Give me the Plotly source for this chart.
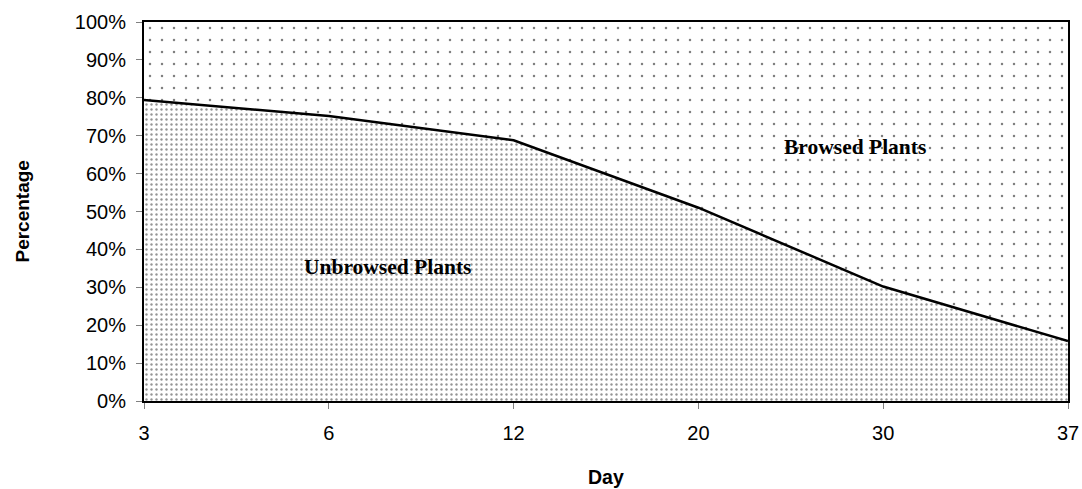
import plotly.graph_objects as go

days = ["3", "6", "12", "20", "30", "37"]
unbrowsed = [79.4, 75.2, 68.8, 51.0, 30.2, 15.8]
browsed = [20.6, 24.8, 31.2, 49.0, 69.8, 84.2]
y_ticks = list(range(0, 101, 10))
y_labels = [f"{v}%" for v in y_ticks]

fig = go.Figure()
fig.add_trace(go.Scatter(
    x=days, y=unbrowsed, stackgroup="one", mode="lines",
    line=dict(color="black", width=2.5),
    fillcolor="white",
    fillpattern=dict(shape=".", size=5, solidity=0.18, fgcolor="#2a2a2a",
                     bgcolor="white", fillmode="overlay"),
    name="Unbrowsed Plants", showlegend=False,
))
fig.add_trace(go.Scatter(
    x=days, y=browsed, stackgroup="one", mode="lines",
    line=dict(color="black", width=0),
    fillcolor="white",
    fillpattern=dict(shape=".", size=12, solidity=0.035, fgcolor="black",
                     bgcolor="white", fillmode="overlay"),
    name="Browsed Plants", showlegend=False,
))

serif = "Liberation Serif, Times New Roman, serif"
sans = "Liberation Sans, Arial, sans-serif"

ann = dict(xref="paper", yref="paper", showarrow=False,
           xanchor="center", yanchor="middle")
fig.add_annotation(x=0.769, y=0.670, text="<b>Browsed Plants</b>",
                   font=dict(family=serif, size=21.5, color="black"), **ann)
fig.add_annotation(x=0.264, y=0.354, text="<b>Unbrowsed Plants</b>",
                   font=dict(family=serif, size=21.5, color="black"), **ann)
fig.add_annotation(x=-0.132, y=0.5, text="<b>Percentage</b>", textangle=-90,
                   font=dict(family=sans, size=19, color="black"), **ann)
fig.add_annotation(x=0.5, y=-0.2005, text="<b>Day</b>",
                   font=dict(family=sans, size=19.5, color="black"), **ann)

fig.update_layout(
    width=1082, height=489,
    margin=dict(l=144, r=14, t=22, b=88, autoexpand=False),
    paper_bgcolor="white", plot_bgcolor="white",
    font=dict(family=sans, size=20, color="black"),
    showlegend=False,
)
fig.update_xaxes(
    type="category", range=[0, 5], automargin=False,
    showline=True, linecolor="black", linewidth=2, mirror=True,
    ticks="outside", ticklen=6, tickcolor="#808080", tickwidth=1,
    showgrid=False, zeroline=False,
    tickfont=dict(family=sans, size=20, color="black"),
    ticklabelstandoff=7,
)
fig.update_yaxes(
    range=[0, 100], tickvals=y_ticks, ticktext=y_labels, automargin=False,
    showline=True, linecolor="black", linewidth=2, mirror=True,
    ticks="outside", ticklen=6, tickcolor="#808080", tickwidth=1,
    showgrid=False, zeroline=False,
    tickfont=dict(family=sans, size=20, color="black"),
    ticklabelstandoff=6,
)

fig.write_html(
    "out.html",
    config={"displayModeBar": False},
    post_script="document.body.style.margin='0';document.body.style.overflow='hidden';",
)
